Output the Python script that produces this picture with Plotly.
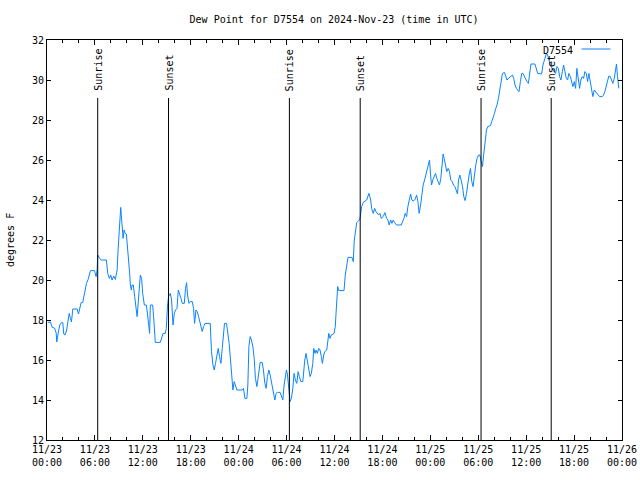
import pandas as pd
import plotly.graph_objects as go

# hours after 2024-11-23 00:00 UTC, and dew point (F)
hours = [0.1,0.44,0.65,0.94,1.15,1.22,1.4,1.6,1.81,1.98,2.1,2.25,2.44,2.6,2.78,2.94,3.06,3.23,3.78,3.94,
 4.1,4.28,4.48,4.6,4.78,4.94,5.15,5.44,5.94,6.15,6.28,6.35,6.6,6.78,7.44,7.6,7.81,7.98,8.15,8.35,
 8.56,8.78,8.9,9.03,9.15,9.23,9.31,9.4,9.53,9.65,9.78,9.94,10.06,10.19,10.35,10.44,10.56,10.65,10.81,10.98,
 11.15,11.28,11.4,11.56,11.69,11.85,11.98,12.19,12.44,12.6,12.73,12.85,12.94,13.23,13.35,13.48,13.56,14.19,14.35,14.53,
 14.81,14.94,15.1,15.22,15.44,15.6,15.78,15.94,16.1,16.28,16.44,16.6,16.78,16.94,17.19,17.35,17.48,17.6,17.78,17.94,
 18.19,18.35,18.48,18.65,18.81,18.98,19.15,19.31,19.44,19.6,19.78,20.44,20.6,20.78,20.94,21.1,21.28,21.44,21.6,21.78,
 21.94,22.1,22.23,22.48,22.65,22.81,22.98,23.1,23.28,23.44,23.6,23.78,24.44,24.6,24.78,25.03,25.15,25.28,25.44,25.6,
 25.78,25.94,26.1,26.28,26.4,26.56,26.69,26.94,27.1,27.28,27.44,27.6,27.78,27.94,28.1,28.28,28.44,28.53,28.69,28.85,
 29.19,29.35,29.53,29.69,29.85,29.98,30.1,30.23,30.35,30.44,30.6,30.78,30.94,31.1,31.28,31.44,31.6,31.78,32.03,32.15,
 32.28,32.44,32.6,32.78,32.94,33.1,33.28,33.4,33.56,33.69,33.85,34.03,34.19,34.35,34.48,34.65,34.78,35.03,35.15,35.28,
 35.44,35.6,35.94,36.1,36.19,36.28,36.4,36.53,37.19,37.35,37.53,37.69,38.19,38.35,38.48,38.6,38.78,39.03,39.19,39.4,
 39.6,40.03,40.31,40.53,40.65,40.85,41.03,41.19,41.35,41.53,41.69,41.85,42.1,42.31,42.53,42.69,42.85,43.03,43.19,43.35,
 43.53,43.78,44.35,44.53,44.69,44.85,45.03,45.19,45.35,45.53,45.69,45.85,46.1,46.28,46.44,46.6,46.78,46.94,47.1,47.28,
 47.44,47.6,47.78,47.9,48.03,48.15,48.31,48.48,48.65,48.81,48.98,49.15,49.31,49.48,49.6,49.73,49.9,50.06,50.23,50.4,
 50.56,50.73,50.9,51.06,51.23,51.4,51.53,51.69,51.85,52.03,52.19,52.35,52.53,52.69,52.85,53.03,53.19,53.35,53.53,53.69,
 53.85,54.03,54.19,54.35,54.53,54.69,54.85,55.03,55.19,55.53,55.69,55.85,56.03,56.19,56.35,56.53,56.69,56.85,57.03,57.28,
 57.44,57.6,57.78,57.94,58.28,58.44,58.6,58.78,58.94,59.1,59.28,59.44,59.6,59.78,59.94,60.1,60.28,60.44,60.6,61.1,
 61.28,61.44,61.94,62.1,62.35,62.53,62.69,62.85,63.03,63.35,63.69,63.85,64.03,64.19,64.35,64.53,64.69,64.85,65.03,65.19,
 65.35,65.53,65.69,65.85,66.03,66.19,66.35,66.53,66.69,66.85,67.03,67.19,67.35,67.53,67.69,67.85,68.03,68.19,68.35,68.53,
 68.69,69.03,69.19,69.53,69.69,69.85,70.03,70.19,70.35,70.53,70.69,70.85,71.03,71.19,71.31,71.44,71.6]
dewpoint = [17.88,17.9,17.63,17.6,17.35,16.9,17.35,17.75,17.87,17.87,17.3,17.25,17.45,17.9,18.33,18.08,17.9,18.55,18.55,18.3,
 18.67,18.88,18.88,19.17,19.58,19.83,20.03,20.47,20.47,20.17,20.5,21.25,21.08,21.0,21.0,20.33,20.08,20.25,20.0,20.2,
 20.03,20.5,21.5,22.42,23.25,23.63,23.2,22.42,22.08,22.5,22.33,22.3,21.83,21.0,20.33,19.75,19.5,19.75,19.75,19.17,
 18.67,18.17,18.75,19.67,20.25,20.08,19.33,18.75,18.75,18.25,17.75,17.33,18.75,18.75,18.17,17.33,16.88,16.88,17.05,17.33,
 17.33,17.58,18.75,19.17,19.33,19.0,17.75,18.33,18.5,18.58,19.5,19.33,19.08,18.83,18.83,19.58,19.87,19.25,18.83,18.92,
 18.92,18.58,17.83,18.5,18.42,18.17,17.83,17.67,17.42,17.67,17.83,17.83,16.42,15.75,15.5,15.83,16.17,16.58,16.17,15.83,
 16.58,17.42,17.83,17.83,17.42,16.83,16.0,15.17,14.5,14.92,14.75,14.5,14.5,14.58,14.08,14.08,14.75,16.67,17.17,17.0,
 16.67,16.08,15.08,14.67,15.0,15.67,15.88,15.88,15.5,14.83,14.58,15.17,15.5,15.25,14.92,14.67,14.25,14.0,14.33,14.38,
 14.38,14.2,14.0,14.75,15.25,15.5,15.3,14.67,14.3,13.92,14.08,14.58,15.33,15.0,14.83,15.42,15.17,14.92,14.92,15.58,
 16.0,16.33,15.92,15.5,15.17,15.33,15.83,16.58,16.33,16.5,16.33,16.58,16.5,16.17,15.83,16.25,16.42,16.5,16.83,17.33,
 17.08,17.25,17.33,17.67,18.33,19.25,19.67,19.47,19.47,20.25,20.83,21.13,21.13,20.92,22.0,22.42,22.87,22.97,23.08,23.67,
 23.88,24.0,24.33,24.0,23.58,23.33,23.58,23.42,23.33,23.25,23.33,23.08,23.17,23.37,23.08,23.0,22.75,23.0,22.83,23.0,
 22.87,22.75,22.75,22.92,23.08,23.33,23.17,23.67,24.08,24.3,24.0,23.95,24.03,24.25,23.92,23.33,23.75,24.42,24.75,25.0,
 25.25,25.5,25.83,26.0,25.25,24.75,25.0,25.17,25.33,25.08,24.92,24.75,25.08,25.92,26.3,26.08,25.75,25.42,25.58,25.42,
 25.0,24.92,24.75,24.67,24.5,24.3,25.0,25.25,25.0,24.67,24.17,23.97,24.33,24.92,25.25,25.58,24.92,24.67,25.42,25.75,
 26.08,26.25,26.25,26.0,25.67,26.3,26.92,27.5,27.67,27.72,27.92,28.08,28.33,28.58,28.75,29.08,29.5,29.92,30.33,30.38,
 30.17,30.0,30.08,30.13,30.25,30.08,29.75,29.58,29.5,29.42,29.92,30.33,30.33,30.17,30.03,29.92,29.83,30.25,30.8,30.8,
 30.58,30.33,30.3,30.75,31.08,31.33,31.25,31.0,30.75,30.5,30.33,30.67,30.58,30.17,30.0,30.42,30.75,30.42,30.08,30.0,
 30.33,30.17,29.92,29.67,29.92,29.58,30.58,29.92,29.58,30.0,30.17,30.08,30.42,30.33,29.92,30.33,29.83,29.5,29.17,29.5,
 29.42,29.25,29.17,29.17,29.25,29.42,29.67,30.0,30.2,30.17,30.0,29.83,30.08,30.5,30.8,30.17,29.58]

sun_times = ["2024-11-23 06:21", "2024-11-23 15:13", "2024-11-24 06:21",
             "2024-11-24 15:13", "2024-11-25 06:21", "2024-11-25 15:08"]
sun_labels = ["Sunrise", "Sunset", "Sunrise", "Sunset", "Sunrise", "Sunset"]

y_ticks = [12, 14, 16, 18, 20, 22, 24, 26, 28, 30, 32]

base = pd.Timestamp("2024-11-23 00:00")
times = base + pd.to_timedelta(hours, unit="h")

FONT = "DejaVu Sans Mono"
LINE_COLOR = "#0a84ff"

fig = go.Figure()
fig.add_trace(go.Scatter(x=times, y=dewpoint, mode="lines", name="D7554",
                         line=dict(color=LINE_COLOR, width=1), showlegend=False))

for t, lab in zip(sun_times, sun_labels):
    fig.add_shape(type="line", x0=t, x1=t, y0=12, y1=29.1, xref="x", yref="y",
                  line=dict(color="black", width=1))
    fig.add_annotation(x=t, y=29.35, xref="x", yref="y", text=lab, textangle=-90,
                       showarrow=False, xanchor="center", yanchor="bottom",
                       font=dict(family=FONT, size=10, color="black"))

# legend (gnuplot style: text then line sample)
fig.add_annotation(x=0.918, y=0.975, xref="paper", yref="paper", text="D7554",
                   showarrow=False, xanchor="right", yanchor="middle",
                   font=dict(family=FONT, size=10, color="black"))
fig.add_shape(type="line", x0=0.9296, x1=0.980, y0=0.9775, y1=0.9775,
              xref="paper", yref="paper", line=dict(color=LINE_COLOR, width=1))

# y-axis title placed like gnuplot's
fig.add_annotation(x=10, y=0.5, xref="paper", yref="paper", text="degrees F",
                   textangle=-90, showarrow=False, xanchor="center", yanchor="middle",
                   font=dict(family=FONT, size=10, color="black"))

ms_h = 3600 * 1000
fig.update_layout(
    width=640, height=480,
    margin=dict(l=47, r=18, t=40, b=40, autoexpand=False),
    paper_bgcolor="white", plot_bgcolor="white",
    font=dict(family=FONT, size=10, color="black"),
    title=dict(text="Dew Point for D7554 on 2024-Nov-23 (time in UTC)",
               x=0.522, xanchor="center", y=1 - 19 / 480, yanchor="middle",
               font=dict(family=FONT, size=10, color="black")),
    showlegend=False,
)
# fix the y title annotation x in paper units (x=10px from left)
fig.layout.annotations[-1].x = (10 - 47) / (640 - 47 - 18)

fig.update_xaxes(
    range=["2024-11-23 00:00", "2024-11-26 00:00"], automargin=False,
    tickmode="linear", tick0="2024-11-23 00:00", dtick=6 * ms_h,
    tickformat="%m/%d<br>%H:%M",
    ticks="inside", ticklen=5, tickcolor="black", tickwidth=1,
    minor=dict(dtick=2 * ms_h, tick0="2024-11-23 00:00", ticks="inside", ticklen=3,
               tickcolor="black", showgrid=False),
    showline=True, linecolor="black", linewidth=1, mirror="ticks",
    showgrid=False, zeroline=False,
    tickfont=dict(family=FONT, size=10, color="black"),
)
fig.update_yaxes(
    range=[12, 32], tickmode="array", tickvals=y_ticks, automargin=False,
    ticks="inside", ticklen=4, tickcolor="black", tickwidth=1,
    showline=True, linecolor="black", linewidth=1, mirror="ticks",
    showgrid=False, zeroline=False,
    tickfont=dict(family=FONT, size=10, color="black"),
)

fig.write_html("out.html")
